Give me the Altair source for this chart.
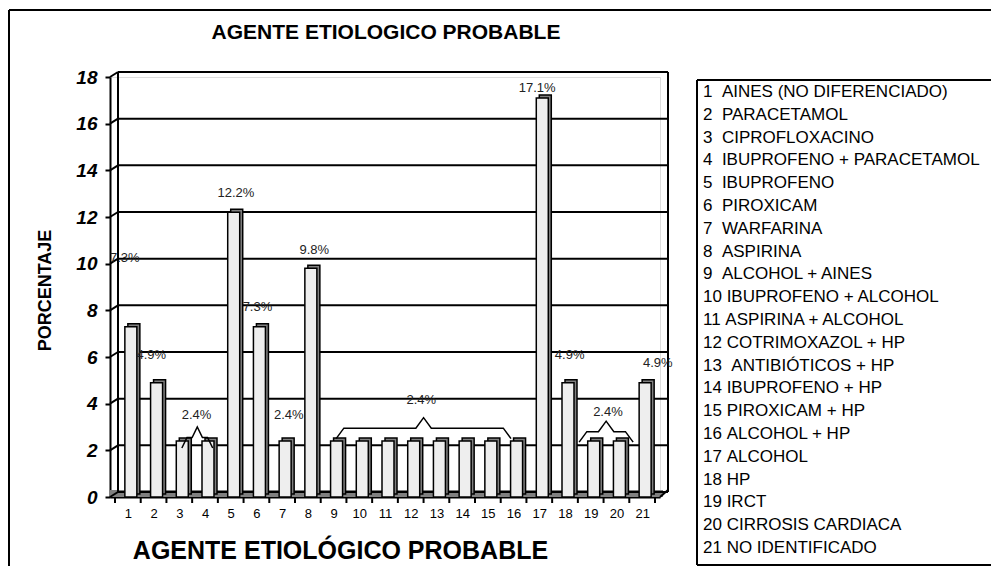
import altair as alt
import pandas as pd

# ---------------- data ----------------
categories = list(range(1, 22))
values = [7.3, 4.9, 2.4, 2.4, 12.2, 7.3, 2.4, 9.8, 2.4, 2.4, 2.4, 2.4, 2.4, 2.4,
          2.4, 2.4, 17.1, 4.9, 2.4, 2.4, 4.9]
names = ["AINES (NO DIFERENCIADO)", "PARACETAMOL", "CIPROFLOXACINO",
         "IBUPROFENO + PARACETAMOL", "IBUPROFENO", "PIROXICAM", "WARFARINA",
         "ASPIRINA", "ALCOHOL + AINES", "IBUPROFENO + ALCOHOL",
         "ASPIRINA + ALCOHOL", "COTRIMOXAZOL + HP", " ANTIBIÓTICOS + HP",
         "IBUPROFENO + HP", "PIROXICAM + HP", "ALCOHOL + HP", "ALCOHOL", "HP",
         "IRCT", "CIRROSIS CARDIACA", "NO IDENTIFICADO"]
y_ticks = list(range(0, 19, 2))

label_text = ["7.3%", "4.9%", "2.4%", "12.2%", "7.3%", "2.4%", "9.8%", "2.4%",
              "17.1%", "4.9%", "2.4%", "4.9%"]
label_x = [0.88, 1.91, 3.67, 5.2, 6.04, 7.26, 8.25, 12.41, 16.92, 18.18, 19.67, 21.61]
label_y = [10.24, 6.09, 3.51, 13.03, 8.14, 3.51, 10.59, 4.16, 17.53, 6.09, 3.64, 5.74]

brace_start = [3.1, 9.1, 18.55]
brace_end = [4.3, 15.9, 20.65]
brace_level = [2.55, 2.95, 2.8]

TITLE = "AGENTE ETIOLOGICO PROBABLE"
X_TITLE = "AGENTE ETIOLÓGICO PROBABLE"
Y_TITLE = "PORCENTAJE"

FONT = "Liberation Sans"
W, H = 550, 420

# ---------------- tables ----------------
bars = pd.DataFrame({"cat": categories, "val": values})
grid = pd.DataFrame({"t": y_ticks})
bounds = pd.DataFrame({"b": [c - 0.5 for c in categories] + [categories[-1] + 0.5]})
labels = pd.DataFrame({"txt": label_text, "lx": label_x, "ly": label_y})

brace_rows = []
for g, (s, e, lv) in enumerate(zip(brace_start, brace_end, brace_level)):
    c = (s + e) / 2
    d, p, k = 0.45, 0.45, min(0.3, (e - s) / 6)
    pts = [(s, lv - d), (s + k, lv), (c - k, lv), (c, lv + p),
           (c + k, lv), (e - k, lv), (e, lv - d)]
    for i, (px, py) in enumerate(pts):
        brace_rows.append({"g": g, "o": i, "bx": px, "by": py})
braces = pd.DataFrame(brace_rows)

legend_lbl = []
for n, nm in zip(categories, names):
    sep = "\u00a0\u00a0" if n < 10 else "\u00a0"
    legend_lbl.append(f"{n}{sep}{nm.replace(' ', chr(160)) if nm.startswith(' ') else nm}")
legend = pd.DataFrame({"i": categories, "lbl": legend_lbl})
legend["py"] = 15 + (legend["i"] - 1) * 22.8
legend["px"] = 593

one = pd.DataFrame({"k": [0]})

xscale = alt.Scale(domain=[0.5, 21.5], nice=False, zero=False)
yscale = alt.Scale(domain=[0, 18], nice=False)

x_axis = alt.Axis(values=categories, ticks=False, grid=False, domainColor="black",
                  domainWidth=2, labelFont=FONT, labelFontSize=13, labelColor="black",
                  labelPadding=10, labelFlush=False, labelOverlap=False,
                  title=X_TITLE, titleFont=FONT,
                  titleFontSize=25, titleFontWeight="bold", titleColor="black",
                  titleX=230, titleY=53, titleBaseline="middle", titleAnchor="middle")
y_axis = alt.Axis(values=y_ticks, grid=False, domainColor="black", domainWidth=2,
                  tickColor="black", tickWidth=2, tickSize=5, labelPadding=8,
                  labelFont=FONT, labelFontSize=19, labelFontWeight="bold",
                  labelFontStyle="italic", labelColor="black", labelOverlap=False,
                  title=Y_TITLE, titleFont=FONT, titleFontSize=18,
                  titleFontWeight="bold", titleColor="black",
                  titleX=-65, titleY=213, titleAngle=-90,
                  titleBaseline="middle", titleAlign="center")

XQ = lambda f: alt.X(f, scale=xscale, axis=x_axis)
YQ = lambda f: alt.Y(f, scale=yscale, axis=y_axis)

# ---------------- decorations ----------------
def seg(x1, x2, y1, y2, color="black", sw=2):
    return alt.Chart(one).mark_rule(color=color, strokeWidth=sw).encode(
        x=alt.value(x1), x2=alt.value(x2), y=alt.value(y1), y2=alt.value(y2))

frame_left = seg(-101, -101, -67, 600)
frame_top = seg(-101, 900, -67, -67)
legend_left = seg(587, 587, 3, 488)
legend_top = seg(587, 900, 3, 3)
legend_bottom = seg(587, 900, 488, 488)
wall_left = seg(8, 8, -5, 415)
wall_right = seg(558, 558, -5, 415)
floor_slant = seg(550, 558, 420, 413)

floor = alt.Chart(one).mark_rect(color="#808080").encode(
    x=alt.value(0), x2=alt.value(553), y=alt.value(413), y2=alt.value(420))

# ---------------- bars ----------------
bar_front = alt.Chart(bars).mark_bar(size=12, xOffset=3, y2Offset=-4,
                                     fill="#eeeeee", stroke="black", strokeWidth=1.5).encode(
    x=XQ("cat:Q"), y=YQ("val:Q"))

bar_side = alt.Chart(bars).mark_bar(size=12, xOffset=6, yOffset=-3, y2Offset=-6,
                                    fill="#808080", stroke="black", strokeWidth=1.5).encode(
    x=XQ("cat:Q"), y=YQ("val:Q"))

gridlines = alt.Chart(grid).mark_rule(color="black", strokeWidth=2, yOffset=-5).encode(
    y=YQ("t:Q"), x=alt.value(8), x2=alt.value(558))

connectors = alt.Chart(grid).mark_rule(color="black", strokeWidth=2, y2Offset=-5).encode(
    y=YQ("t:Q"), y2="t:Q", x=alt.value(0), x2=alt.value(8))

xticks = alt.Chart(bounds).mark_rule(color="black", strokeWidth=2).encode(
    x=XQ("b:Q"), y=alt.value(420), y2=alt.value(426))

brace_lines = alt.Chart(braces).mark_line(color="black", strokeWidth=1.5).encode(
    x=XQ("bx:Q"), y=YQ("by:Q"), detail="g:N", order="o:Q")

value_labels = alt.Chart(labels).mark_text(font=FONT, fontSize=13, color="#222222",
                                           baseline="middle").encode(
    x=XQ("lx:Q"), y=YQ("ly:Q"), text="txt:N")

title = alt.Chart(one).mark_text(font=FONT, fontSize=21, fontWeight="bold",
                                 color="black", baseline="middle").encode(
    x=alt.value(276), y=alt.value(-44), text=alt.value(TITLE))

legend_text = alt.Chart(legend).mark_text(font=FONT, fontSize=17, color="black",
                                          align="left", baseline="middle").encode(
    x=alt.X("px:Q", scale=None, axis=None), y=alt.Y("py:Q", scale=None, axis=None),
    text="lbl:N")

chart = alt.layer(
    frame_left, frame_top, floor, gridlines, connectors, wall_left, wall_right,
    floor_slant, bar_side, bar_front, xticks, brace_lines, value_labels, title,
    legend_left, legend_top, legend_bottom, legend_text
).properties(
    width=W, height=H,
    autosize=alt.AutoSizeParams(type="none"),
    padding={"left": 102, "top": 69, "right": 331, "bottom": 69},
).configure_view(strokeWidth=0).configure_axis(labelOverlap=False).configure(
    background="white")

chart.save("out.html", embed_options={"renderer": "svg", "actions": False})
